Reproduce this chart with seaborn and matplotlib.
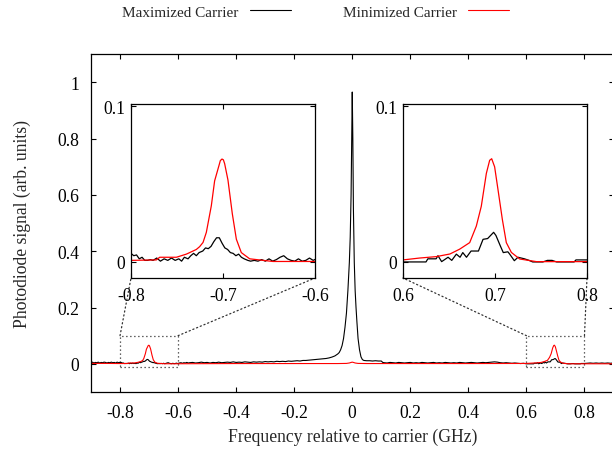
import numpy as np
import matplotlib
matplotlib.use("Agg")
import matplotlib.pyplot as plt
from matplotlib.patches import Rectangle, ConnectionPatch
import seaborn as sns

# frequency (GHz) and photodiode signal
x_max = [-0.900, -0.895, -0.890, -0.885, -0.880, -0.875, -0.870, -0.865, -0.860, -0.855,
         -0.850, -0.845, -0.840, -0.835, -0.830, -0.825, -0.820, -0.815, -0.810, -0.805,
         -0.800, -0.797, -0.794, -0.791, -0.788, -0.785, -0.782, -0.779, -0.776, -0.772,
         -0.768, -0.764, -0.760, -0.756, -0.752, -0.748, -0.745, -0.742, -0.738, -0.735,
         -0.732, -0.729, -0.726, -0.722, -0.719, -0.716, -0.713, -0.710, -0.707, -0.704,
         -0.701, -0.698, -0.695, -0.692, -0.689, -0.686, -0.683, -0.680, -0.677, -0.673,
         -0.670, -0.666, -0.662, -0.658, -0.654, -0.650, -0.646, -0.642, -0.638, -0.634,
         -0.630, -0.626, -0.622, -0.618, -0.614, -0.610, -0.606, -0.602,
         -0.595, -0.590, -0.585, -0.580, -0.575, -0.570, -0.565, -0.560, -0.550, -0.540,
         -0.530, -0.520, -0.510, -0.500, -0.490, -0.480, -0.470, -0.460, -0.450, -0.440,
         -0.430, -0.420, -0.410, -0.400, -0.390, -0.380, -0.370, -0.360, -0.350, -0.340,
         -0.330, -0.320, -0.310, -0.300, -0.290, -0.280, -0.270, -0.260, -0.250, -0.240,
         -0.230, -0.220, -0.210, -0.200, -0.190, -0.180, -0.170, -0.160, -0.150, -0.140,
         -0.130, -0.120, -0.110, -0.100, -0.090, -0.080, -0.070, -0.060, -0.050, -0.045,
         -0.040, -0.035, -0.030, -0.025, -0.020, -0.015, -0.010, -0.007, -0.004, -0.002,
         0.000, 0.002, 0.004, 0.007, 0.010, 0.013, 0.016, 0.020, 0.025, 0.030,
         0.035, 0.040, 0.050, 0.060, 0.070, 0.080, 0.090, 0.100, 0.105, 0.110,
         0.120, 0.130, 0.140, 0.150, 0.160, 0.170, 0.180, 0.190, 0.200, 0.210,
         0.220, 0.230, 0.240, 0.250, 0.260, 0.270, 0.280, 0.290, 0.300, 0.310,
         0.320, 0.330, 0.340, 0.350, 0.360, 0.370, 0.380, 0.390, 0.400, 0.410,
         0.420, 0.430, 0.440, 0.450, 0.460, 0.470, 0.480, 0.490, 0.500, 0.510,
         0.520, 0.530, 0.540, 0.550, 0.560, 0.570, 0.580, 0.590,
         0.600, 0.625, 0.627, 0.636, 0.638, 0.642, 0.649, 0.653, 0.658, 0.662,
         0.665, 0.669, 0.674, 0.682, 0.687, 0.692, 0.6985, 0.701, 0.706, 0.709,
         0.714, 0.716, 0.721, 0.725, 0.732, 0.737, 0.741, 0.752, 0.757, 0.762,
         0.767, 0.786, 0.788, 0.800,
         0.810, 0.820, 0.830, 0.840, 0.850, 0.860, 0.870, 0.880, 0.890, 0.900]
y_max = [0.004, 0.006, 0.003, 0.005, 0.004, 0.006, 0.003, 0.005, 0.004, 0.006,
         0.005, 0.003, 0.005, 0.004, 0.006, 0.004, 0.005, 0.003, 0.006, 0.004,
         0.0055, 0.004, 0.0045, 0.002, 0.003, 0.001, 0.001, 0.0015, 0.001, 0.0025,
         0.0005, 0.002, 0.001, 0.0025, 0.001, 0.002, 0.0005, 0.003, 0.002, 0.004,
         0.0055, 0.004, 0.006, 0.007, 0.009, 0.0085, 0.010, 0.013, 0.0155, 0.0155,
         0.012, 0.009, 0.008, 0.006, 0.0055, 0.004, 0.005, 0.003, 0.002, 0.001,
         0.0005, 0.001, 0.0005, 0.0015, 0.0005, 0.002, 0.0005, 0.0015, 0.003, 0.004,
         0.002, 0.001, 0.0005, 0.002, 0.0005, 0.001, 0.0025, 0.001,
         0.003, 0.004, 0.002, 0.004, 0.003, 0.005, 0.003, 0.004, 0.005, 0.003,
         0.004, 0.006, 0.004, 0.005, 0.003, 0.005, 0.004, 0.006, 0.004, 0.005,
         0.006, 0.005, 0.007, 0.005, 0.006, 0.005, 0.007, 0.006, 0.005, 0.007,
         0.006, 0.007, 0.006, 0.008, 0.007, 0.008, 0.007, 0.009, 0.008, 0.009,
         0.008, 0.010, 0.009, 0.010, 0.011, 0.010, 0.012, 0.012, 0.013, 0.014,
         0.015, 0.016, 0.017, 0.018, 0.019, 0.021, 0.024, 0.028, 0.035, 0.040,
         0.050, 0.065, 0.090, 0.130, 0.180, 0.260, 0.360, 0.450, 0.600, 0.800,
         0.965, 0.800, 0.550, 0.360, 0.260, 0.200, 0.150, 0.090, 0.050, 0.025,
         0.015, 0.012, 0.011, 0.011, 0.010, 0.011, 0.010, 0.010, 0.005, 0.004,
         0.003, 0.005, 0.004, 0.003, 0.005, 0.004, 0.003, 0.004, 0.005, 0.003,
         0.004, 0.003, 0.005, 0.004, 0.003, 0.004, 0.005, 0.003, 0.004, 0.003,
         0.005, 0.004, 0.003, 0.004, 0.003, 0.005, 0.004, 0.003, 0.004, 0.005,
         0.004, 0.003, 0.004, 0.005, 0.004, 0.005, 0.006, 0.007, 0.006, 0.004,
         0.003, 0.004, 0.003, 0.002, 0.003, 0.002, 0.001, 0.002,
         0.000, 0.000, 0.002, 0.002, 0.004, 0.0002, 0.003, 0.001, 0.005, 0.003,
         0.006, 0.003, 0.007, 0.007, 0.0145, 0.015, 0.019, 0.017, 0.010, 0.006,
         0.0065, 0.005, 0.0008, 0.003, 0.002, 0.001, 0.000, 0.000, 0.001, 0.001,
         0.000, 0.000, 0.0013, 0.0013,
         0.002, 0.003, 0.002, 0.003, 0.002, 0.003, 0.002, 0.003, 0.002, 0.003]

x_min = [-0.900, -0.850, -0.800, -0.7725, -0.7688, -0.7507, -0.7399, -0.7362, -0.729, -0.7254,
         -0.7217, -0.7181, -0.7127, -0.7091, -0.7043, -0.7029, -0.7011, -0.6996, -0.6982, -0.6946,
         -0.6899, -0.6855, -0.6801, -0.671, -0.6457, -0.600, -0.400, -0.200, -0.050, -0.020,
         -0.010, -0.004, 0.000, 0.004, 0.010, 0.020, 0.050, 0.200, 0.400, 0.600,
         0.618, 0.636, 0.651, 0.6616, 0.6725, 0.6797, 0.6851, 0.6906, 0.6942, 0.6964,
         0.6996, 0.7033, 0.708, 0.7123, 0.7178, 0.7268, 0.745, 0.800, 0.850, 0.900]
y_min = [0.0015, 0.0015, 0.001, 0.0013, 0.003, 0.003, 0.005, 0.006, 0.008, 0.0098,
         0.0125, 0.019, 0.036, 0.052, 0.062, 0.065, 0.066, 0.0655, 0.063, 0.0525,
         0.031, 0.0146, 0.006, 0.002, 0.0003, 0.0003, 0.001, 0.001, 0.001, 0.0015,
         0.003, 0.005, 0.006, 0.005, 0.003, 0.0015, 0.001, 0.001, 0.001, 0.0013,
         0.0025, 0.0034, 0.0051, 0.0082, 0.0124, 0.023, 0.0357, 0.0568, 0.0652, 0.0662,
         0.061, 0.0462, 0.0272, 0.0124, 0.0061, 0.0019, 0.0002, 0.0002, 0.0002, 0.0002]

x_ticks = [-0.8, -0.6, -0.4, -0.2, 0, 0.2, 0.4, 0.6, 0.8]
x_ticklabels = ["-0.8", "-0.6", "-0.4", "-0.2", "0", "0.2", "0.4", "0.6", "0.8"]
y_ticks = [0, 0.2, 0.4, 0.6, 0.8, 1]
y_ticklabels = ["0", "0.2", "0.4", "0.6", "0.8", "1"]
zoom_ranges = [(-0.8, -0.6), (0.6, 0.8)]
zoom_ticks = [[-0.8, -0.7, -0.6], [0.6, 0.7, 0.8]]
zoom_ticklabels = [["-0.8", "-0.7", "-0.6"], ["0.6", "0.7", "0.8"]]

sns.set_theme(style="ticks")
plt.rcParams["font.family"] = ["Liberation Serif", "DejaVu Serif"]
plt.rcParams["axes.unicode_minus"] = False
FS = 12.7
LEG_FS = 11

fig = plt.figure(figsize=(6.12, 4.52), dpi=100)
ax = fig.add_axes([91 / 612, 1 - 393 / 452, 522.5 / 612, 338 / 452])


def draw_traces(a, lw):
    sns.lineplot(x=x_max, y=y_max, ax=a, color="black", linewidth=lw,
                 estimator=None, sort=False, legend=False, label="Maximized Carrier")
    sns.lineplot(x=x_min, y=y_min, ax=a, color="red", linewidth=lw,
                 estimator=None, sort=False, legend=False, label="Minimized Carrier")


def style_axes(a, pad):
    for s in a.spines.values():
        s.set_color("black")
        s.set_linewidth(0.9)
    a.tick_params(direction="in", top=True, right=True, length=3.5, width=0.8,
                  labelsize=FS, pad=pad, colors="black")
    a.set_facecolor("white")


draw_traces(ax, 0.8)
ax.set_xlim(-0.9, 0.9)
ax.set_ylim(-0.1, 1.1)
ax.set_xticks(x_ticks)
ax.set_xticklabels(x_ticklabels)
ax.set_yticks(y_ticks)
ax.set_yticklabels(y_ticklabels)
style_axes(ax, 8.5)
ax.set_xlabel("Frequency relative to carrier (GHz)", fontsize=FS, labelpad=5)
ax.set_ylabel("Photodiode signal (arb. units)", fontsize=FS, labelpad=19)

inset_left = [131 / 612, 403 / 612]
for (lo, hi), ticks, labels, left in zip(zoom_ranges, zoom_ticks, zoom_ticklabels, inset_left):
    axin = fig.add_axes([left, 1 - 279 / 452, 184 / 612, 174 / 452])
    draw_traces(axin, 0.9)
    axin.set_xlim(lo, hi)
    axin.set_ylim(-0.0103, 0.1013)
    axin.set_xticks(ticks)
    axin.set_xticklabels(labels)
    axin.set_yticks([0, 0.1])
    axin.set_yticklabels(["0", "0.1"])
    style_axes(axin, 4)
    axin.tick_params(axis="x", pad=6.5)

    dot = dict(color="#333333", linewidth=0.9, linestyle=(0, (1, 2.2)))
    ax.add_patch(Rectangle((lo, -0.01), hi - lo, 0.11, fill=False, zorder=1, **dot))
    for xa, xb in [(lo, 0), (hi, 1)]:
        con = ConnectionPatch(xyA=(xa, 0.1), coordsA=ax.transData,
                              xyB=(xb, 0), coordsB=axin.transAxes, **dot)
        con.set_clip_on(False)
        ax.add_artist(con)

handles, labels = ax.get_legend_handles_labels()
fig.legend(handles, labels, ncol=2, loc="center", bbox_to_anchor=(315.5 / 612, 1 - 12.7 / 452),
           frameon=False, markerfirst=False, fontsize=LEG_FS, handlelength=2.68,
           handletextpad=0.72, columnspacing=3.4, borderaxespad=0, borderpad=0)

fig.savefig("out.png", dpi=100)
